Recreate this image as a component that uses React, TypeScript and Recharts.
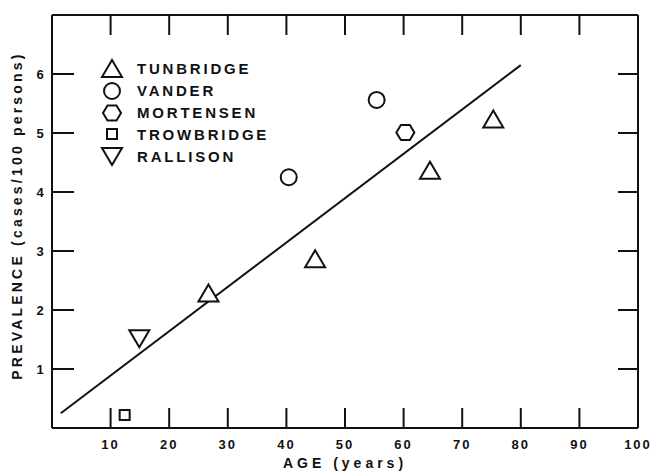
import { ComposedChart, Scatter, XAxis, YAxis, Legend, Label } from "recharts";

// values
const tunbridgeAge = [26.7, 44.9, 64.5, 75.3];
const tunbridgePrev = [2.28, 2.86, 4.36, 5.23];
const vanderAge = [40.4, 55.4];
const vanderPrev = [4.25, 5.56];
const mortensenAge = [60.3];
const mortensenPrev = [5.01];
const trowbridgeAge = [12.4];
const trowbridgePrev = [0.22];
const rallisonAge = [14.9];
const rallisonPrev = [1.52];
const fitAge = [1.5, 80];
const fitPrev = [0.25, 6.15];

const studies = ["TUNBRIDGE", "VANDER", "MORTENSEN", "TROWBRIDGE", "RALLISON"];
const xTicks = [10, 20, 30, 40, 50, 60, 70, 80, 90, 100];
const yTicks = [1, 2, 3, 4, 5, 6];

const toPoints = (xs: number[], ys: number[]) => xs.map((age, i) => ({ age, prev: ys[i] }));

const FONT = "'Liberation Sans', Arial, sans-serif";
const INK = "#111";

const symbol = (kind: string, cx: number, cy: number) => {
  const p = { fill: "#fff", stroke: INK, strokeWidth: 2 };
  switch (kind) {
    case "TUNBRIDGE":
      return <polygon {...p} points={`${cx},${cy - 9} ${cx - 10},${cy + 8} ${cx + 10},${cy + 8}`} />;
    case "VANDER":
      return <circle {...p} cx={cx} cy={cy} r={8} />;
    case "MORTENSEN":
      return (
        <polygon
          {...p}
          points={`${cx - 9},${cy} ${cx - 4.5},${cy - 7.5} ${cx + 4.5},${cy - 7.5} ${cx + 9},${cy} ${cx + 4.5},${cy + 7.5} ${cx - 4.5},${cy + 7.5}`}
        />
      );
    case "TROWBRIDGE":
      return <rect {...p} x={cx - 5} y={cy - 5} width={10} height={10} />;
    case "RALLISON":
      return <polygon {...p} points={`${cx - 10},${cy - 8} ${cx + 10},${cy - 8} ${cx},${cy + 9}`} />;
    default:
      return <g />;
  }
};

const shapeFor = (kind: string) => (props: any) => symbol(kind, props.cx, props.cy);

const BottomTick = ({ x, y, payload }: any) => (
  <g>
    <line x1={x} x2={x} y1={y} y2={y - 20} stroke={INK} strokeWidth={2} />
    <text x={x} y={y + 21} textAnchor="middle" fontFamily={FONT} fontWeight="bold" fontSize={13} letterSpacing={2} fill={INK}>
      {payload.value}
    </text>
  </g>
);

const TopTick = ({ x, y }: any) => <line x1={x} x2={x} y1={y} y2={y + 20} stroke={INK} strokeWidth={2} />;

const LeftTick = ({ x, y, payload }: any) => (
  <g>
    <line x1={x} x2={x + 22} y1={y} y2={y} stroke={INK} strokeWidth={2} />
    <text x={x - 12} y={y + 5} textAnchor="middle" fontFamily={FONT} fontWeight="bold" fontSize={13} fill={INK}>
      {payload.value}
    </text>
  </g>
);

const RightTick = ({ x, y }: any) => <line x1={x} x2={x - 20} y1={y} y2={y} stroke={INK} strokeWidth={2} />;

const renderLegend = (props: any) => {
  const items = (props.payload || [])
    .filter((e: any) => studies.includes(e.value))
    .sort((a: any, b: any) => studies.indexOf(a.value) - studies.indexOf(b.value));
  return (
    <div>
      {items.map((e: any) => (
        <div key={e.value} style={{ display: "flex", alignItems: "center", height: 21.8 }}>
          <svg width={24} height={22}>{symbol(e.value, 12, 11)}</svg>
          <span
            style={{
              marginLeft: 13,
              fontFamily: FONT,
              fontWeight: "bold",
              fontSize: 15,
              letterSpacing: 2.8,
              color: INK,
            }}
          >
            {e.value}
          </span>
        </div>
      ))}
    </div>
  );
};

const yTitle = ({ viewBox }: any) => {
  const cx = 17;
  const cy = viewBox.y + viewBox.height / 2 - 6;
  return (
    <text
      x={cx}
      y={cy}
      transform={`rotate(-90 ${cx} ${cy})`}
      textAnchor="middle"
      dominantBaseline="central"
      fontFamily={FONT}
      fontWeight="bold"
      fontSize={14}
      letterSpacing={3.2}
      fill={INK}
    >
      PREVALENCE (cases/100 persons)
    </text>
  );
};

export default function App() {
  const axisLine = { stroke: INK, strokeWidth: 2 };
  return (
    <div style={{ width: 656, height: 474, background: "#fff" }}>
      <style>{"body{margin:0;background:#fff}"}</style>
      <ComposedChart width={656} height={474} margin={{ top: 14, right: 17, bottom: 0, left: 0 }}>
        <XAxis
          xAxisId="b"
          dataKey="age"
          type="number"
          domain={[0, 100]}
          ticks={xTicks}
          orientation="bottom"
          height={46}
          tickSize={0}
          tickMargin={0}
          tickLine={false}
          axisLine={axisLine}
          tick={<BottomTick />}
          interval={0}
        >
          <Label
            value="AGE (years)"
            position="insideBottom"
            offset={6}
            style={{ fontFamily: FONT, fontWeight: "bold", fontSize: 14, letterSpacing: 4, fill: INK }}
          />
        </XAxis>
        <XAxis
          xAxisId="t"
          dataKey="age"
          type="number"
          domain={[0, 100]}
          ticks={xTicks.slice(0, 9)}
          orientation="top"
          height={1}
          tickSize={0}
          tickMargin={0}
          tickLine={false}
          axisLine={axisLine}
          tick={<TopTick />}
          interval={0}
        />
        <YAxis
          yAxisId="l"
          dataKey="prev"
          type="number"
          domain={[0, 7]}
          ticks={yTicks}
          orientation="left"
          width={52}
          tickSize={0}
          tickMargin={0}
          tickLine={false}
          axisLine={axisLine}
          tick={<LeftTick />}
          interval={0}
        >
          <Label content={yTitle} />
        </YAxis>
        <YAxis
          yAxisId="r"
          dataKey="prev"
          type="number"
          domain={[0, 7]}
          ticks={yTicks}
          orientation="right"
          width={1}
          tickSize={0}
          tickMargin={0}
          tickLine={false}
          axisLine={axisLine}
          tick={<RightTick />}
          interval={0}
        />
        <Legend
          layout="vertical"
          align="center"
          verticalAlign="middle"
          content={renderLegend}
          wrapperStyle={{ left: 100, top: 58, width: 200 }}
        />
        {/* fit line sits on the mirrored top/right axes (same domains) */}
        <Scatter
          xAxisId="t"
          yAxisId="r"
          name="fit"
          data={toPoints(fitAge, fitPrev)}
          line={{ stroke: INK, strokeWidth: 2 }}
          shape={() => <g />}
          legendType="none"
          isAnimationActive={false}
        />
        <Scatter xAxisId="b" yAxisId="l" name="TUNBRIDGE" data={toPoints(tunbridgeAge, tunbridgePrev)} shape={shapeFor("TUNBRIDGE")} isAnimationActive={false} />
        <Scatter xAxisId="b" yAxisId="l" name="VANDER" data={toPoints(vanderAge, vanderPrev)} shape={shapeFor("VANDER")} isAnimationActive={false} />
        <Scatter xAxisId="b" yAxisId="l" name="MORTENSEN" data={toPoints(mortensenAge, mortensenPrev)} shape={shapeFor("MORTENSEN")} isAnimationActive={false} />
        <Scatter xAxisId="b" yAxisId="l" name="TROWBRIDGE" data={toPoints(trowbridgeAge, trowbridgePrev)} shape={shapeFor("TROWBRIDGE")} isAnimationActive={false} />
        <Scatter xAxisId="b" yAxisId="l" name="RALLISON" data={toPoints(rallisonAge, rallisonPrev)} shape={shapeFor("RALLISON")} isAnimationActive={false} />
      </ComposedChart>
    </div>
  );
}
